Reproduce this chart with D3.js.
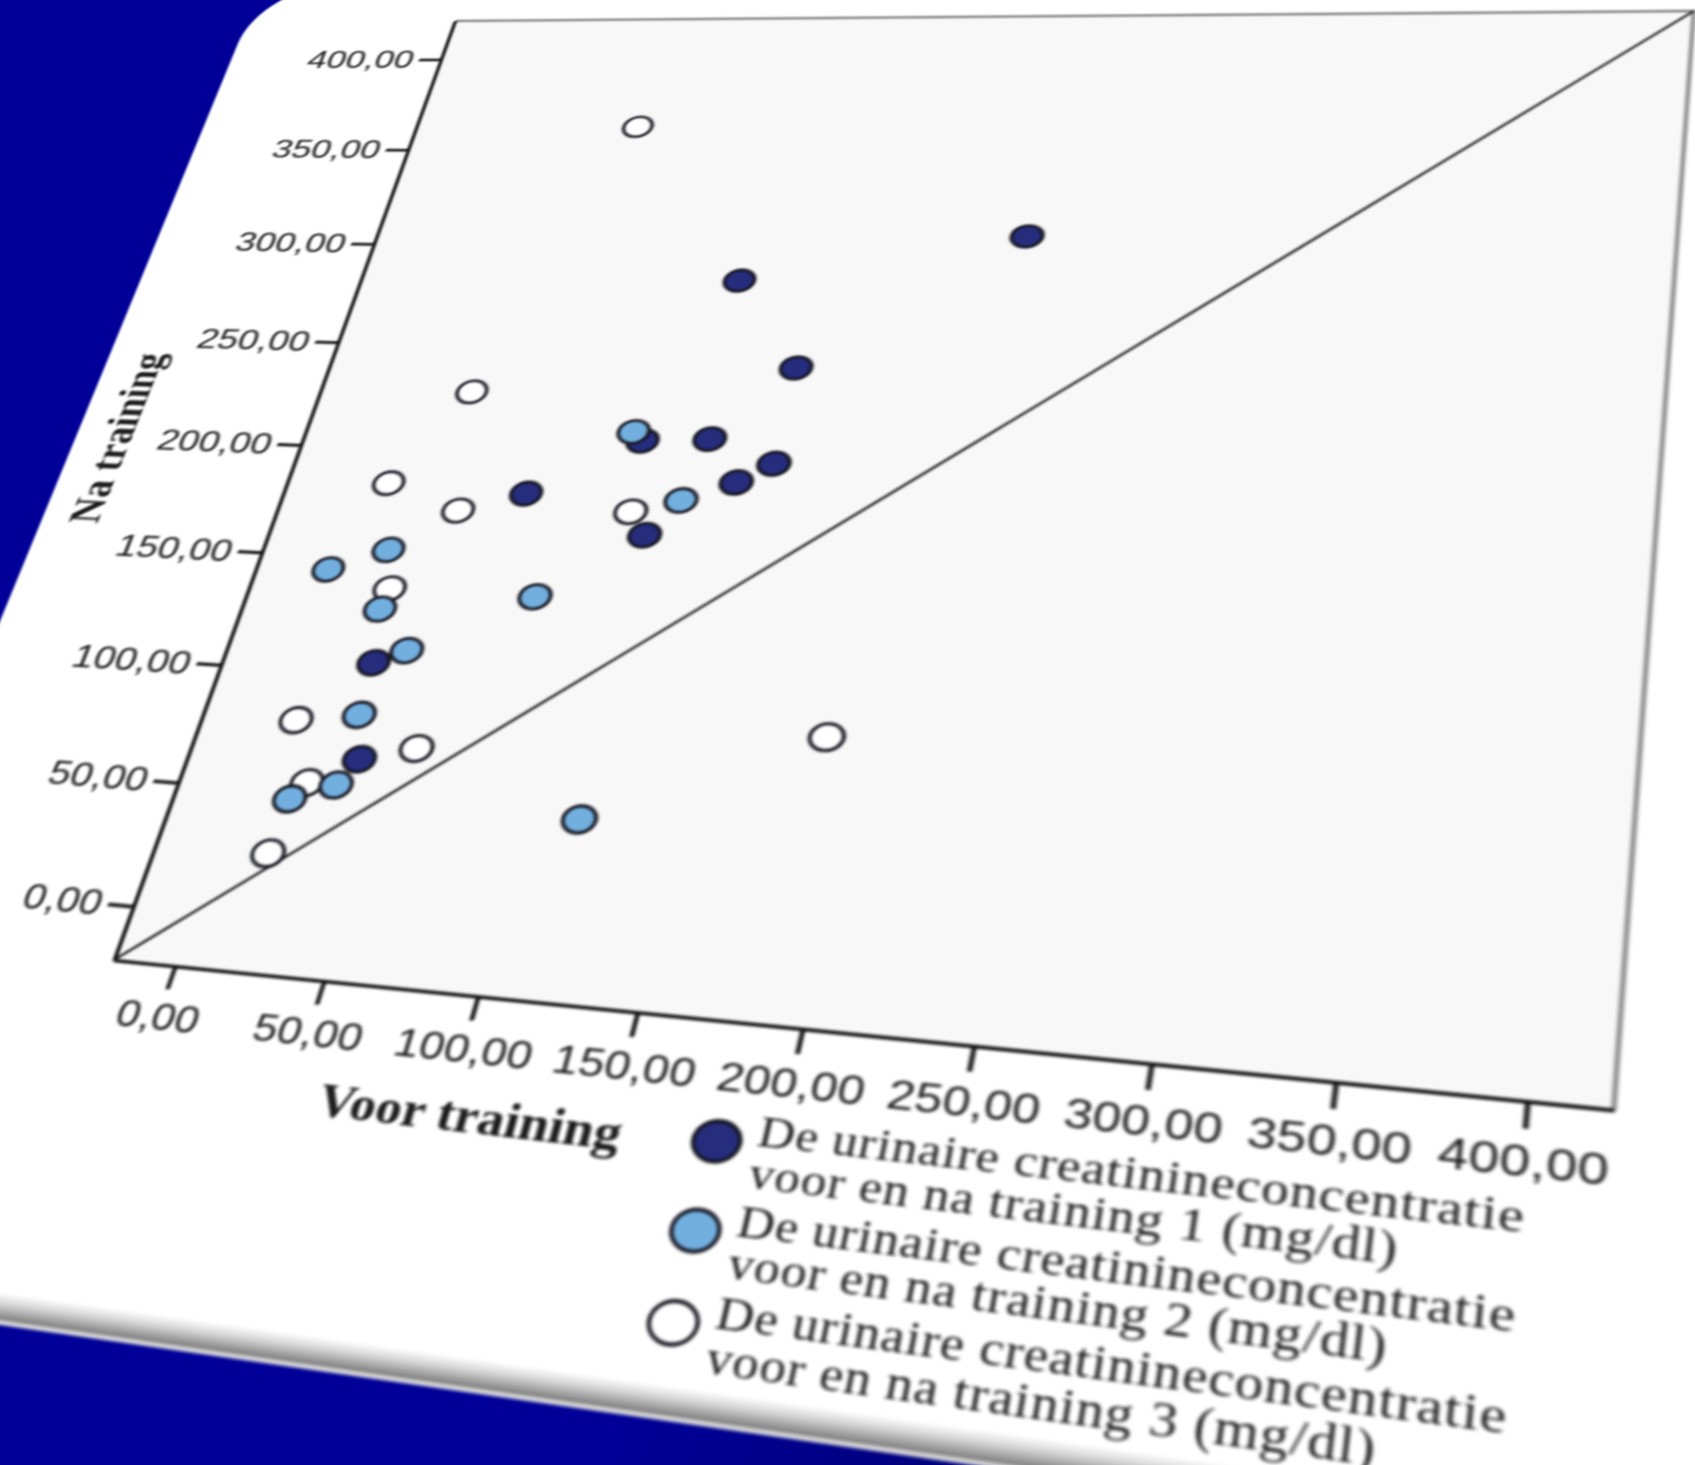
<!DOCTYPE html>
<html>
<head>
<meta charset="utf-8">
<script src="https://cdn.jsdelivr.net/npm/d3@7"></script>
<style>
  html, body { margin: 0; padding: 0; width: 1695px; height: 1465px; overflow: hidden; }
  body { background: linear-gradient(112deg, #000099 0%, #000099 52%, #00007c 68%, #000060 85%); }
  #stage { position: absolute; left: 0; top: 0; width: 1695px; height: 1465px; overflow: hidden; }
  #card { position: absolute; left: 0; top: 0; transform-origin: 0 0; filter: blur(0.85px); }
  svg text { fill: #1c1c1c; }
</style>
</head>
<body>
<div id="stage"><div id="card"></div></div>
<script>
// ---- data -------------------------------------------------------------
const axisDomain = [-21, 422];
const xTickValues = [0, 50, 100, 150, 200, 250, 300, 350, 400];
const yTickValues = [0, 50, 100, 150, 200, 250, 300, 350, 400];

const xTitle = "Voor training";
const yTitle = "Na training";

// [voor, na] per subject
const training1 = [[215, 309], [119, 285], [147, 244], [101, 208], [124, 210], [148, 200],
                   [137, 191], [66, 182], [111, 166], [32, 105], [38, 65]];
const training2 = [[97, 212], [120, 182], [24, 154], [5, 144], [80, 137], [28, 128],
                   [42, 111], [33, 83], [33, 54], [19, 47], [116, 48]];
const training3 = [[65, 363], [35, 228], [16, 184], [44, 173], [104, 176], [29, 137],
                   [12, 79], [56, 71], [23, 54], [18, 25], [187, 87]];

const legendLines = [
  ["De urinaire creatinineconcentratie", "voor en na training 1 (mg/dl)"],
  ["De urinaire creatinineconcentratie", "voor en na training 2 (mg/dl)"],
  ["De urinaire creatinineconcentratie", "voor en na training 3 (mg/dl)"]
];
const seriesFill = ["#262d7d", "#72afdf", "#ffffff"];

// ---- layout -----------------------------------------------------------
const P = 1000;            // plot side (flat units)
const OX = 240, OY = 70;   // plot origin inside the sheet
const SW = OX + 1100, SH = OY + 1300;
// where the plot corners land on the slide (TL, TR, BR, BL)
const quad = [[455, 21], [1694, 11], [1614, 1110], [114, 960]];

const fmt = d3.formatLocale({decimal: ",", thousands: ".", grouping: [3], currency: ["", ""]}).format(".2f");

const x = d3.scaleLinear().domain(axisDomain).range([0, P]);
const y = d3.scaleLinear().domain(axisDomain).range([P, 0]);

const svg = d3.select("#card").append("svg")
  .attr("width", SW).attr("height", SH)
  .attr("xmlns", "http://www.w3.org/2000/svg");

const defs = svg.append("defs");
const shadeStops = [[0, "#ffffff"], [0.35, "#d4d4d4"], [0.75, "#8e8e8e"], [0.82, "#7a7a7a"], [0.88, "#e6e6e6"], [1, "#b8b8c8"]];
const gb = defs.append("linearGradient").attr("id", "shadeB").attr("x1", 0).attr("y1", 0).attr("x2", 0).attr("y2", 1);
shadeStops.forEach(([o, c]) => gb.append("stop").attr("offset", o).attr("stop-color", c));
const gr = defs.append("linearGradient").attr("id", "shadeR").attr("x1", 0).attr("y1", 0).attr("x2", 1).attr("y2", 0);
shadeStops.forEach(([o, c]) => gr.append("stop").attr("offset", o).attr("stop-color", c));

const g = svg.append("g").attr("transform", `translate(${OX},${OY})`);

// sheet
const L = -196, T = -52, R = 1065, B = 1272, rad = 80;
g.append("rect").attr("x", L).attr("y", B).attr("width", R - L).attr("height", 24).attr("fill", "url(#shadeB)");
g.append("rect").attr("x", R).attr("y", T).attr("width", 22).attr("height", B - T + 24).attr("fill", "url(#shadeR)");
g.append("path")
  .attr("d", `M${L},${T + rad} A${rad},${rad} 0 0 1 ${L + rad},${T} L${R},${T} L${R},${B} L${L},${B} Z`)
  .attr("fill", "#ffffff");

// plot area
g.append("rect").attr("x", 0).attr("y", 0).attr("width", P).attr("height", P).attr("fill", "#f8f8f8");
g.append("path").attr("d", `M0,0 L${P},0 L${P},${P}`).attr("fill", "none")
  .attr("stroke", "#858585").attr("stroke-width", 3);

// reference line y = x
g.append("line")
  .attr("x1", x(axisDomain[0])).attr("y1", y(axisDomain[0]))
  .attr("x2", x(axisDomain[1])).attr("y2", y(axisDomain[1]))
  .attr("stroke", "#2a2a2a").attr("stroke-width", 2.4);

// axes
const yAxis = g.append("g").call(d3.axisLeft(y).tickValues(yTickValues).tickFormat(fmt).tickSize(20).tickPadding(5).tickSizeOuter(0));
const xAxis = g.append("g").attr("transform", `translate(0,${P})`)
  .call(d3.axisBottom(x).tickValues(xTickValues).tickFormat(fmt).tickSize(20).tickPadding(11).tickSizeOuter(0));
[yAxis, xAxis].forEach(ax => {
  ax.select(".domain").attr("stroke", "#111").attr("stroke-width", 3.2);
  ax.selectAll(".tick line").attr("stroke", "#111").attr("stroke-width", 3.2);
  ax.selectAll(".tick text").attr("font-family", "'Liberation Sans', Arial, sans-serif")
    .attr("font-size", 32).style("fill", "#1c1c1c");
});

// axis titles
g.append("text").attr("transform", `translate(-147,${P / 2}) rotate(-90)`)
  .attr("text-anchor", "middle").attr("font-family", "'Liberation Serif', 'Times New Roman', serif")
  .attr("font-weight", "bold").attr("font-size", 38).text(yTitle);
g.append("text").attr("x", 290).attr("y", 1108)
  .attr("text-anchor", "middle").attr("font-family", "'Liberation Serif', 'Times New Roman', serif")
  .attr("font-weight", "bold").attr("font-size", 37).text(xTitle);

// points: training 3 first, then 1, then 2 on top
const drawOrder = [2, 0, 1];
const allSeries = [training1, training2, training3];
drawOrder.forEach(i => {
  g.append("g").selectAll("circle").data(allSeries[i]).join("circle")
    .attr("cx", d => x(d[0])).attr("cy", d => y(d[1])).attr("r", 12)
    .attr("fill", seriesFill[i]).attr("stroke", "#15151f").attr("stroke-width", 2.8);
});

// legend
const legend = g.append("g").attr("transform", "translate(460,1093)");
legendLines.forEach((lines, i) => {
  const item = legend.append("g").attr("transform", `translate(0,${i * 67.5})`);
  item.append("circle").attr("r", 15.5).attr("fill", seriesFill[i])
    .attr("stroke", "#15151f").attr("stroke-width", 2.8);
  item.append("text").attr("x", 26).attr("y", 0)
    .attr("font-family", "'Liberation Serif', 'Times New Roman', serif").attr("font-size", 33)
    .attr("letter-spacing", 0.6)
    .selectAll("tspan").data(lines).join("tspan")
    .attr("x", 26).attr("dy", (d, j) => j === 0 ? 0 : 32).text(d => d);
});

// ---- project the flat sheet onto the tilted slide plane ----------------
function squareToQuad(q) {
  const [x0, y0] = q[0], [x1, y1] = q[1], [x2, y2] = q[2], [x3, y3] = q[3];
  const sx = x0 - x1 + x2 - x3, sy = y0 - y1 + y2 - y3;
  const dx1 = x1 - x2, dx2 = x3 - x2, dy1 = y1 - y2, dy2 = y3 - y2;
  const den = dx1 * dy2 - dx2 * dy1;
  const gg = (sx * dy2 - dx2 * sy) / den, hh = (dx1 * sy - sx * dy1) / den;
  return {
    a: x1 - x0 + gg * x1, b: x3 - x0 + hh * x3, c: x0,
    d: y1 - y0 + gg * y1, e: y3 - y0 + hh * y3, f: y0,
    g: gg, h: hh
  };
}
const H = squareToQuad(quad);
const m11 = H.a / P, m12 = H.b / P, m13 = H.c - (H.a * OX + H.b * OY) / P;
const m21 = H.d / P, m22 = H.e / P, m23 = H.f - (H.d * OX + H.e * OY) / P;
const m31 = H.g / P, m32 = H.h / P, m33 = 1 - (H.g * OX + H.h * OY) / P;
d3.select("#card")
  .style("width", SW + "px").style("height", SH + "px")
  .style("transform", `matrix3d(${m11},${m21},0,${m31},${m12},${m22},0,${m32},0,0,1,0,${m13},${m23},0,${m33})`);
</script>
</body>
</html>
